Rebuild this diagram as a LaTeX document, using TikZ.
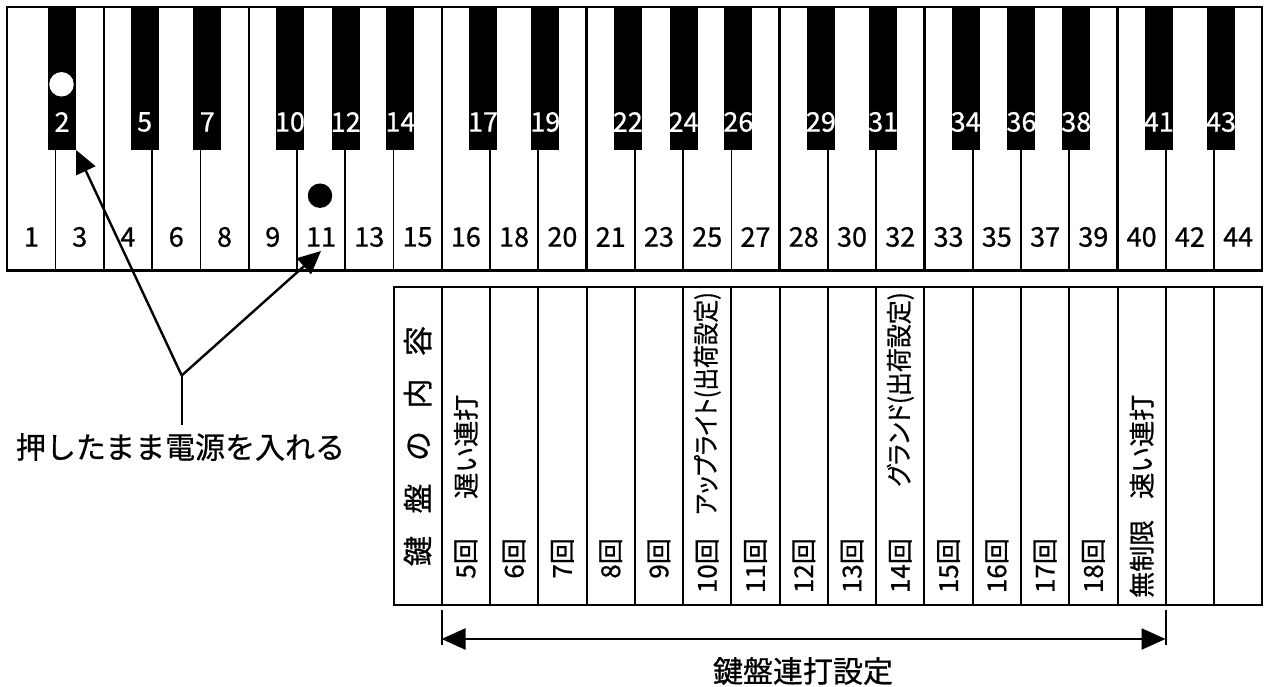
\documentclass[tikz,border=0pt]{standalone}
\usepackage{fontspec}
\newfontfamily\jp[FakeBold=0.7]{Noto Sans CJK JP}
\newfontfamily\jpp[RawFeature=+palt,FakeBold=0.7]{Noto Sans CJK JP}
\usetikzlibrary{arrows.meta}
\begin{document}
\begin{tikzpicture}[x=1pt,y=-1pt,
  wkey/.style={draw=black,fill=white,line width=1.6pt,inner sep=0pt,outer sep=0pt,
    minimum width=48.27pt,minimum height=263.5pt,anchor=north west},
  bkey/.style={fill=black,inner sep=0pt,outer sep=0pt,minimum width=28pt,minimum height=143pt,anchor=north},
  wnum/.style={inner sep=0pt,font=\jp\fontsize{27}{27}\selectfont},
  bnum/.style={inner sep=0pt,text=white,font=\jp\fontsize{27}{27}\selectfont},
  sep/.style={line width=2.3pt},
  cell/.style={draw=black,line width=2pt,inner sep=0pt,outer sep=0pt,
    minimum width=48.27pt,minimum height=318pt,anchor=north west},
  vtext/.style={rotate=90,inner sep=0pt,font=\jp\fontsize{26}{26}\selectfont},
  vtextp/.style={rotate=90,inner sep=0pt,font=\jpp\fontsize{26}{26}\selectfont},
  arr/.style={line width=2.4pt,-{Triangle[length=23pt,width=21pt]}},
  darr/.style={line width=2.4pt,{Triangle[length=24pt,width=21pt]}-{Triangle[length=24pt,width=21pt]}},
  plain/.style={line width=2.4pt},
  label/.style={inner sep=0pt,font=\jp\fontsize{30}{30}\selectfont}
]
\useasboundingbox (0,0) rectangle (1265,687);
% white keys
\foreach \n [count=\i from 0] in {1,3,4,6,8,9,11,13,15,16,18,20,21,23,25,27,28,30,32,33,35,37,39,40,42,44} {
  \node[wkey] (w\n) at ({7.3+\i*48.27},7) {};
}
% full-height separators (no black key)
\foreach \b in {2,5,9,12,16,19,23} {
  \draw[sep] ({7.3+\b*48.27},7) -- ({7.3+\b*48.27},270.5);
}
\draw[sep] (7.3,7) rectangle (1262.3,270.5);
% white key numbers
\foreach \n [count=\i from 0] in {1,3,4,6,8,9,11,13,15,16,18,20,21,23,25,27,28,30,32,33,35,37,39,40,42,44} {
  \node[wnum] (wl\n) at ({7.3+(\i+0.5)*48.27},237) {\n};
}
% black keys
\foreach \n/\b/\o in {2/1/6.5,5/3/-7.5,7/4/7,10/6/-7,12/7/0.5,14/8/7,17/10/-7,19/11/7,22/13/-7,24/14/0.5,26/15/7,29/17/-7,31/18/7,34/20/-7,36/21/0.5,38/22/7,41/24/-7,43/25/7} {
  \node[bkey] (b\n) at ({7.3+\b*48.27+\o},7) {};
  \node[bnum] (bl\n) at ({7.3+\b*48.27+\o},122) {\n};
}
% dots
\node[circle,fill=white,minimum size=24.5pt,inner sep=0pt] (dotw) at (61.5,84.3) {};
\node[circle,fill=black,minimum size=24.5pt,inner sep=0pt] (dotb) at (320,195.7) {};
% table
\foreach \k in {0,...,17} {
  \node[cell] (c\k) at ({393.5+\k*48.27},287) {};
}
\node[rotate=90,inner sep=0pt,font=\jp\fontsize{30}{30}\selectfont] (hdr) at (c0.center)
  {鍵\hspace{22.5pt}盤\hspace{22.5pt}の\hspace{22.5pt}内\hspace{22.5pt}容};
\foreach \k/\cnt in {1/5,2/6,3/7,4/8,5/9,6/10,7/11,8/12,9/13,10/14,11/15,12/16,13/17,14/18} {
  \node[vtext,anchor=east] (n\k) at ({417.6+\k*48.27},538) {\cnt 回};
}
\node[vtext,anchor=west] (slow) at ({417.6+1*48.27},499) {遅い連打};
\node[vtextp,anchor=east] (upr) at ({417.6+6*48.27},292) {\scalebox{0.872}[1]{アップライト(出荷設定)}};
\node[vtextp,anchor=east] (grd) at ({417.6+10*48.27},292) {\scalebox{0.92}[1]{グランド(出荷設定)}};
\node[vtext,anchor=west] (unl) at ({417.6+15*48.27},598) {無制限};
\node[vtext,anchor=west] (fast) at ({417.6+15*48.27},499) {速い連打};
% left callout
\coordinate (J) at (181.7,375.5);
\coordinate (Jend) at (181.7,425);
\coordinate (t11) at (321,251);
\draw[arr] (J) -- (b2.south east);
\draw[arr] (J) -- (t11);
\draw[plain] (J) -- (Jend);
\node[label] (lbl) at (180.5,447) {押したまま電源を入れる};
% bottom range arrow
\coordinate (ta1) at (441.5,610);
\coordinate (ta2) at (441.5,645);
\coordinate (tb1) at (1165.5,610);
\coordinate (tb2) at (1165.5,645);
\draw[line width=2pt] (ta1) -- (ta2);
\draw[line width=2pt] (tb1) -- (tb2);
\coordinate (aa) at (441.5,639);
\coordinate (ab) at (1165.5,639);
\draw[darr] (aa) -- (ab);
\node[label] (rng) at (803,671) {鍵盤連打設定};
\end{tikzpicture}
\end{document}
